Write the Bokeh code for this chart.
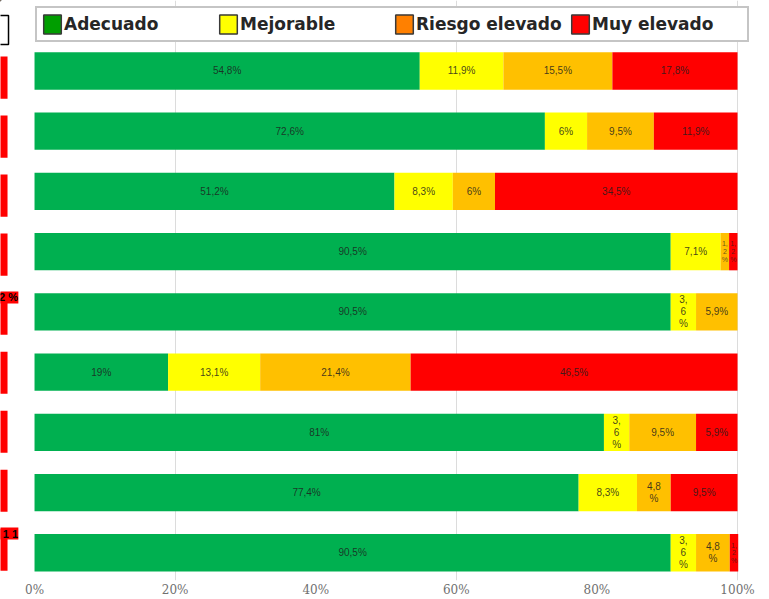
import numpy as np
from bokeh.plotting import figure
from bokeh.models import Range1d, FixedTicker, Legend, LegendItem, ColumnDataSource
from bokeh.core.properties import value
from bokeh.embed import file_html
from bokeh.resources import INLINE

# ---- data (percent of respondents per level, one entry per row, top to bottom) ----
rows = [0, 1, 2, 3, 4, 5, 6, 7, 8]
adecuado = [54.8, 72.6, 51.2, 90.5, 90.5, 19.0, 81.0, 77.4, 90.5]
mejorable = [11.9, 6.0, 8.3, 7.1, 3.6, 13.1, 3.6, 8.3, 3.6]
riesgo_elevado = [15.5, 9.5, 6.0, 1.2, 5.9, 21.4, 9.5, 4.8, 4.8]
muy_elevado = [17.8, 11.9, 34.5, 1.2, 0.0, 46.5, 5.9, 9.5, 1.2]

series_keys = ["adecuado", "mejorable", "riesgo", "muy"]
series_names = ["Adecuado", "Mejorable", "Riesgo elevado", "Muy elevado"]
bar_colors = ["#00B050", "#FFFF00", "#FFC000", "#FF0000"]
swatch_colors = ["#009E00", "#FFFF00", "#FF8000", "#FF0000"]

tick_values = [0, 20, 40, 60, 80, 100]
tick_labels = ["0%", "20%", "40%", "60%", "80%", "100%"]
grid_values = [20, 60, 100]

# partially visible row tags at the far left edge
tag_texts = {4: "2 %", 8: "1 1"}

source = ColumnDataSource(dict(
    row=rows, adecuado=adecuado, mejorable=mejorable,
    riesgo=riesgo_elevado, muy=muy_elevado,
))

p = figure(
    width=769, height=599,
    x_range=Range1d(-4.84, 104.55),
    y_range=Range1d(8.46, -1.17),
    output_backend="svg", toolbar_location=None,
    y_axis_location=None,
    min_border_left=0, min_border_right=0, min_border_top=0, min_border_bottom=16,
)
p.outline_line_color = None
p.background_fill_color = "white"
p.border_fill_color = "white"

# grid
p.ygrid.visible = False
p.xgrid.ticker = FixedTicker(ticks=grid_values)
p.xgrid.grid_line_color = "#DCDCDC"
p.xgrid.grid_line_width = 1

# axis
p.xaxis.ticker = FixedTicker(ticks=tick_values)
p.xaxis.major_label_overrides = {v: t for v, t in zip(tick_values, tick_labels)}
p.xaxis.axis_line_color = None
p.xaxis.major_tick_line_color = None
p.xaxis.minor_tick_line_color = None
p.xaxis.major_tick_out = 0
p.xaxis.major_label_standoff = 2
p.xaxis.major_label_text_font = "DejaVu Serif"
p.xaxis.major_label_text_font_size = "12px"
p.xaxis.major_label_text_color = "#707070"

# stacked bars
p.hbar_stack(series_keys, y="row", height=0.62, color=bar_colors,
             line_color=None, source=source)

# segment labels, centred on each segment
def fmt(v):
    s = f"{v:.1f}".replace(".", ",")
    if s.endswith(",0"):
        s = s[:-2]
    return s + "%"

data = np.array([adecuado, mejorable, riesgo_elevado, muy_elevado]).T
lefts = np.cumsum(data, axis=1) - data
lx, ly, lt, sx, sy, st = [], [], [], [], [], []
for i, r in enumerate(rows):
    for j in range(4):
        v = data[i, j]
        if v <= 0:
            continue
        cx = lefts[i, j] + v / 2
        txt = fmt(v)
        if v < 2:
            a, b = txt[:-1].split(",")
            sx.append(cx); sy.append(r); st.append(a + ",\n" + b + "\n%")
            continue
        if v < 4:
            a, b = txt[:-1].split(",")
            txt = a + ",\n" + b + "\n%"
        elif v < 5:
            txt = txt[:-1] + "\n%"
        lx.append(cx); ly.append(r); lt.append(txt)

p.text(x=lx, y=ly, text=lt, text_align="center", text_baseline="middle",
       text_font=value("Liberation Sans"), text_font_size="10px",
       text_color="#1E1E1E", text_alpha=0.85, text_line_height=1.1)
p.text(x=sx, y=sy, text=st, text_align="center", text_baseline="middle",
       text_font=value("Liberation Sans"), text_font_size="7px",
       text_color="#1E1E1E", text_alpha=0.7, text_line_height=1.1)

# cut-off tags along the left edge
tag_c = [r * 0.98 + 0.11 for r in rows]
p.quad(left=-6, right=-3.84, top=[c - 0.35 for c in tag_c],
       bottom=[c + 0.35 for c in tag_c], fill_color="#FF0000", line_color=None)
for r, t in tag_texts.items():
    c = tag_c[r] - 0.27
    p.quad(left=-6, right=-2.3, top=c - 0.1, bottom=c + 0.1,
           fill_color="#FF0000", line_color=None)
    p.text(x=[-2.35], y=[c], text=[t], text_align="right", text_baseline="middle",
           text_font=value("Liberation Sans"), text_font_size="11px",
           text_font_style="bold", text_color="black")
p.quad(left=-6, right=-3.70, top=-0.92, bottom=-0.44,
       fill_color="white", line_color="black", line_width=1.5)

# legend with its own swatches (renderers placed outside the visible range)
items = []
for name, col in zip(series_names, swatch_colors):
    rr = p.hbar(y=[-50], left=[-300], right=[-200], height=0.5, fill_color=col,
                line_color="#3A3A3A", line_width=1.5)
    items.append(LegendItem(label=name, renderers=[rr]))

legend = Legend(
    items=items, orientation="horizontal", location=(35, 538),
    glyph_width=22, glyph_height=24, label_standoff=1, label_width=151,
    spacing=2, padding=4, margin=0,
    border_line_color="#8C8C8C", border_line_width=2,
    background_fill_color="white", background_fill_alpha=1,
    label_text_font="DejaVu Sans", label_text_font_size="17px",
    label_text_font_style="bold", label_text_color="#262626",
)
p.add_layout(legend)

open("out.html", "w").write(file_html(p, INLINE))
